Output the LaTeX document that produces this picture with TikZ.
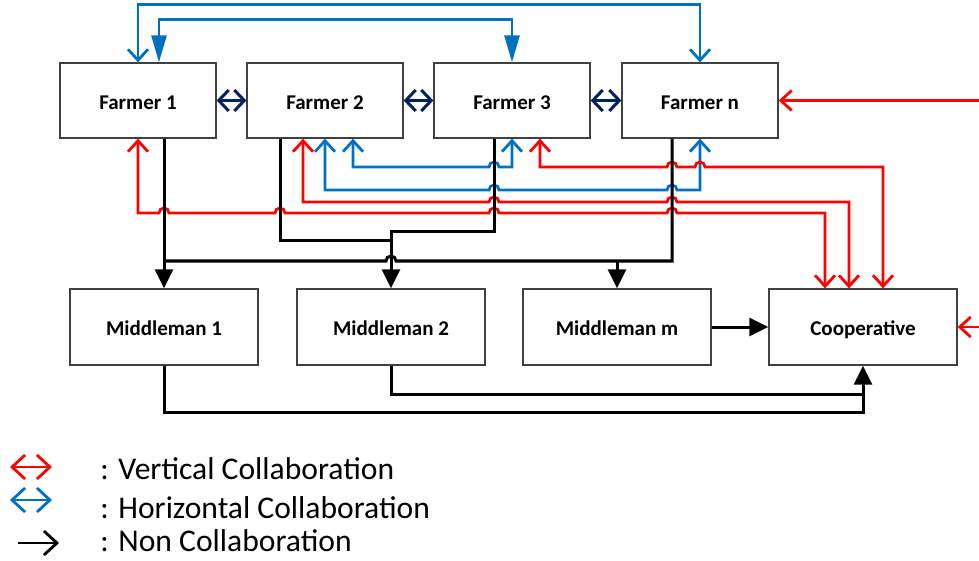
\documentclass[tikz,border=0pt]{standalone}
\usepackage{fontspec}
\setmainfont{Carlito}
\usetikzlibrary{arrows.meta,calc}
\definecolor{vred}{HTML}{FF0000}
\definecolor{hblue}{HTML}{0070C0}
\definecolor{navy}{HTML}{002060}
\tikzstyle{block} = [draw=black!75, line width=0.65pt, fill=white, minimum width=78pt, minimum height=37.5pt, inner sep=0pt, text height=8.7pt, text depth=0pt, font=\fontsize{10.5}{12}\selectfont\bfseries]
\tikzstyle{mblock} = [block, minimum width=94pt, minimum height=38pt]
\tikzstyle{vert} = [vred, line width=1.4pt, {Straight Barb[length=5.5pt,width=10pt]}-{Straight Barb[length=5.5pt,width=10pt]}]
\tikzstyle{vertin} = [vred, line width=1.4pt, -{Straight Barb[length=5.5pt,width=10pt]}]
\tikzstyle{horiz} = [hblue, line width=1.4pt, {Straight Barb[length=5.5pt,width=10pt]}-{Straight Barb[length=5.5pt,width=10pt]}]
\tikzstyle{horizfill} = [hblue, line width=1.4pt, {Triangle[length=13.5pt,width=7.5pt]}-{Triangle[length=13.5pt,width=7.5pt]}]
\tikzstyle{peer} = [navy, line width=1.5pt, {Straight Barb[length=5pt,width=10.5pt]}-{Straight Barb[length=5pt,width=10.5pt]}]
\tikzstyle{nonline} = [black, line width=1.5pt]
\tikzstyle{non} = [nonline, -{Triangle[length=9.5pt,width=9pt]}]
\tikzstyle{legtext} = [anchor=west, inner sep=0pt, font=\fontsize{15.8}{18}\selectfont]
% small jumps where two lines cross
\newcommand{\hopr}[2]{-- (#1-5,#2) arc[start angle=180,end angle=360,radius=5]}
\newcommand{\hopl}[2]{-- (#1+5,#2) arc[start angle=0,end angle=-180,radius=5]}

\begin{document}
\begin{tikzpicture}[x=0.5pt, y=-0.5pt]
\useasboundingbox (0,0) rectangle (979,561);

% farmers
\node[block] (f1) at (138,100.5) {Farmer 1};
\node[block] (f2) at (325,100.5) {Farmer 2};
\node[block] (f3) at (512,100.5) {Farmer 3};
\node[block] (fn) at (700,100.5) {Farmer n};

% buyers
\node[mblock] (m1) at (164,327) {Middleman 1};
\node[mblock] (m2) at (391,327) {Middleman 2};
\node[mblock] (mm) at (617,327) {Middleman m};
\node[mblock] (coop) at (863,327) {Cooperative};

\coordinate (bus) at (0,261);
\coordinate (rimA) at (979,100.5);
\coordinate (rimB) at (979,327);

% horizontal collaboration
\draw[peer] (f1.east) -- (f2.west);
\draw[peer] (f2.east) -- (f3.west);
\draw[peer] (f3.east) -- (fn.west);
\draw[horiz] (f1.north) -- ++(0,-58) -| (fn.north);
\draw[horizfill] ($(f1.north)+(21,0)$) -- ++(0,-43) -| (f3.north);
\draw[horiz] (f2.south) -- (325,190) \hopr{494}{190} \hopr{672}{190} -| (fn.south);
\draw[horiz] ($(f2.south)+(28,0)$) -- (353,167) \hopr{494}{167} -| (f3.south);

% vertical collaboration
\draw[vert] (f1.south) -- (138,213) \hopr{164}{213} \hopr{280}{213} \hopr{494}{213} \hopr{672}{213} -| ($(coop.north)+(-38,0)$);
\draw[vert] ($(f2.south)+(-22,0)$) -- (303,202) \hopr{494}{202} \hopr{672}{202} -| ($(coop.north)+(-14,0)$);
\draw[vert] ($(f3.south)+(28,0)$) -- (540,167) \hopr{672}{167} \hopr{700}{167} -| ($(coop.north)+(20,0)$);
\draw[vertin] (rimA) -- (fn.east);
\draw[vertin] (rimB) -- (coop.east);

% non collaboration
\draw[non] ($(f1.south)+(26,0)$) -- (m1.north);
\draw[nonline] ($(fn.south)+(-28,0)$) |- (617,261) \hopl{391}{261} -- (164,261);
\draw[non] (mm.north |- bus) -- (mm.north);
\draw[nonline] ($(f2.south)+(-45,0)$) |- (391,241);
\draw[non] ($(f3.south)+(-18,0)$) |- (391,232) -- (m2.north);
\draw[non] (m1.south) |- (863,412) -- (coop.south);
\draw[nonline] (m2.south) |- (863,394);
\draw[non] (mm.east) -- (coop.west);

% legend
\coordinate (la) at (10,467); \coordinate (lb) at (52,467);
\coordinate (lc) at (10,500); \coordinate (ld) at (52,500);
\coordinate (le) at (18,543); \coordinate (lf) at (59,543);
\draw[vred, line width=1.4pt, {Straight Barb[length=6.5pt,width=12pt]}-{Straight Barb[length=6.5pt,width=12pt]}] (la) -- (lb);
\draw[hblue, line width=1.4pt, {Straight Barb[length=6.5pt,width=12pt]}-{Straight Barb[length=6.5pt,width=12pt]}] (lc) -- (ld);
\draw[black, line width=1.4pt, -{Straight Barb[length=6.5pt,width=12pt]}] (le) -- (lf);
\node[legtext] (lv) at (100,469) {: Vertical Collaboration};
\node[legtext] (lh) at (100,508) {: Horizontal Collaboration};
\node[legtext] (ln) at (100,541) {: Non Collaboration};
\end{tikzpicture}
\end{document}
